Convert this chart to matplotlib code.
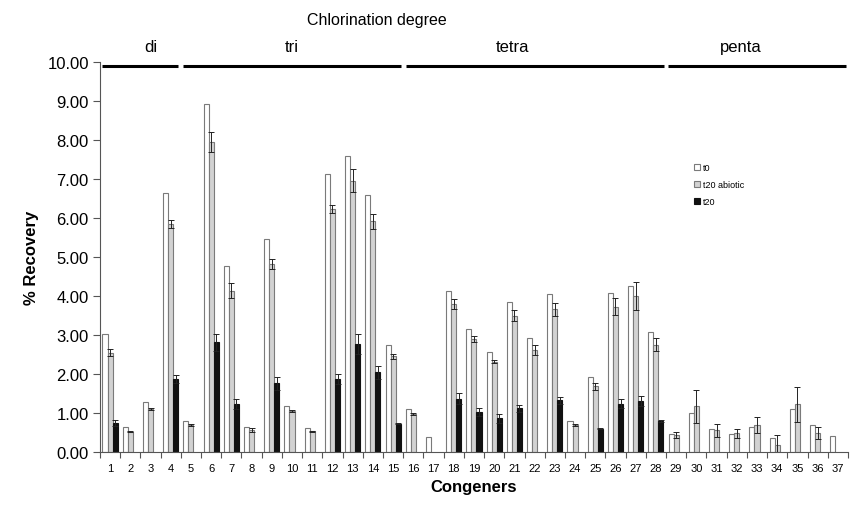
import matplotlib
matplotlib.use('Agg')
import matplotlib.pyplot as plt
import matplotlib.transforms as mtransforms
import numpy as np

nan = np.nan

congeners = list(range(1, 38))

t0 = [3.02, 0.64, 1.29, 6.64, 0.80, 8.93, 4.77, 0.64, 5.46, 1.19,
      0.62, 7.13, 7.59, 6.59, 2.74, 1.10, 0.39, 4.14, 3.15, 2.57,
      3.84, 2.91, 4.05, 0.80, 1.91, 4.07, 4.26, 3.07, 0.47, 1.01,
      0.58, 0.45, 0.64, 0.37, 1.10, 0.69, 0.41]

t20_abiotic = [2.55, 0.52, 1.11, 5.85, 0.69, 7.95, 4.14, 0.56, 4.82, 1.05,
               0.53, 6.23, 6.96, 5.91, 2.45, 0.97, nan, 3.79, 2.89, 2.32,
               3.49, 2.62, 3.66, 0.69, 1.68, 3.72, 4.00, 2.75, 0.43, 1.17,
               0.56, 0.48, 0.69, 0.17, 1.22, 0.48, nan]

t20_abiotic_err = [0.10, 0.02, 0.03, 0.10, 0.02, 0.25, 0.20, 0.05, 0.13, 0.03,
                   0.02, 0.11, 0.30, 0.19, 0.06, 0.02, nan, 0.12, 0.08, 0.05,
                   0.14, 0.13, 0.17, 0.02, 0.10, 0.22, 0.35, 0.17, 0.08, 0.42,
                   0.17, 0.12, 0.21, 0.26, 0.45, 0.15, nan]

t20 = [0.74, nan, nan, 1.88, nan, 2.81, 1.22, nan, 1.76, nan,
       nan, 1.87, 2.77, 2.04, 0.73, nan, nan, 1.37, 1.03, 0.86,
       1.12, nan, 1.33, nan, 0.60, 1.24, 1.31, 0.80, nan, nan,
       nan, nan, nan, nan, nan, nan, nan]

t20_err = [0.08, nan, nan, 0.10, nan, 0.21, 0.13, nan, 0.17, nan,
           nan, 0.12, 0.25, 0.17, 0.02, nan, nan, 0.15, 0.11, 0.11,
           0.09, nan, 0.09, nan, 0.02, 0.11, 0.12, 0.02, nan, nan,
           nan, nan, nan, nan, nan, nan, nan]

# chlorination groups: (label, first congener, last congener, label position)
groups = [('di', 1, 4, 3.0),
          ('tri', 5, 15, 10.0),
          ('tetra', 16, 28, 20.9),
          ('penta', 29, 37, 32.2)]

font = 'Liberation Sans'
plt.rc('font', family=[font, 'DejaVu Sans'])

fig = plt.figure(figsize=(8.5, 5.1), dpi=100)
ax = fig.add_axes([0.1176, 0.1118, 0.88, 0.7647])

x = np.array(congeners, dtype=float)
w = 0.25
edge = '#7a7a7a'

ax.bar(x - w, t0, w, color='white', edgecolor=edge, linewidth=0.8, label='t0')
ax.bar(x, t20_abiotic, w, color='#d2d2d2', edgecolor=edge, linewidth=0.8,
       label='t20 abiotic')
ax.bar(x + w, t20, w, color='#111111', edgecolor='#111111', linewidth=0.8,
       label='t20')

# error bars (abiotic and t20 only)
ab = np.array(t20_abiotic)
abe = np.array(t20_abiotic_err)
m = np.isfinite(ab)
ax.errorbar(x[m], ab[m], yerr=abe[m], fmt='none', ecolor='#222222',
            elinewidth=0.7, capsize=2, capthick=0.7)
bl = np.array(t20)
ble = np.array(t20_err)
m = np.isfinite(bl)
ax.errorbar(x[m] + w, bl[m], yerr=ble[m], fmt='none', ecolor='#222222',
            elinewidth=0.7, capsize=2, capthick=0.7)

ax.set_xlim(0.5, 37.5)
ax.set_ylim(0, 10)
ax.set_yticks(np.arange(0, 11, 1))
ax.set_yticklabels(['%.2f' % v for v in np.arange(0, 11, 1)], fontsize=12)

# ticks between categories, labels at centres
ax.set_xticks(np.arange(0.5, 38, 1))
ax.set_xticklabels([])
ax.set_xticks(x, minor=True)
ax.set_xticklabels([str(c) for c in congeners], minor=True, fontsize=8)
ax.tick_params(axis='x', which='major', direction='out', length=4,
               color='#555555')
ax.tick_params(axis='x', which='minor', length=0, pad=8)
ax.tick_params(axis='y', direction='out', length=5, color='#555555', pad=3)

ax.spines['top'].set_visible(False)
ax.spines['right'].set_visible(False)
ax.spines['left'].set_color('#555555')
ax.spines['bottom'].set_color('#555555')

ax.set_ylabel('% Recovery', fontsize=12, fontweight='bold', labelpad=6)
ax.set_xlabel('Congeners', fontsize=12, fontweight='bold', labelpad=4)

# chlorination degree bars above the plot
trans = mtransforms.blended_transform_factory(ax.transData, ax.transAxes)
for name, first, last, pos in groups:
    ax.plot([first - 0.5 + 0.12, last + 0.5 - 0.12], [0.99, 0.99],
            color='black', linewidth=2.2, transform=trans, clip_on=False,
            solid_capstyle='butt')
    ax.text(pos, 1.02, name, transform=trans, ha='center', va='bottom',
            fontsize=12)
ax.text(14.2, 1.09, 'Chlorination degree', transform=trans, ha='center',
        va='bottom', fontsize=11.5)

ax.legend(loc='upper left', bbox_to_anchor=(0.79, 0.75), frameon=False,
          fontsize=6.5, handlelength=0.6, handleheight=0.6,
          handletextpad=0.3, labelspacing=0.9, borderaxespad=0)

plt.savefig('out.png', dpi=100)
